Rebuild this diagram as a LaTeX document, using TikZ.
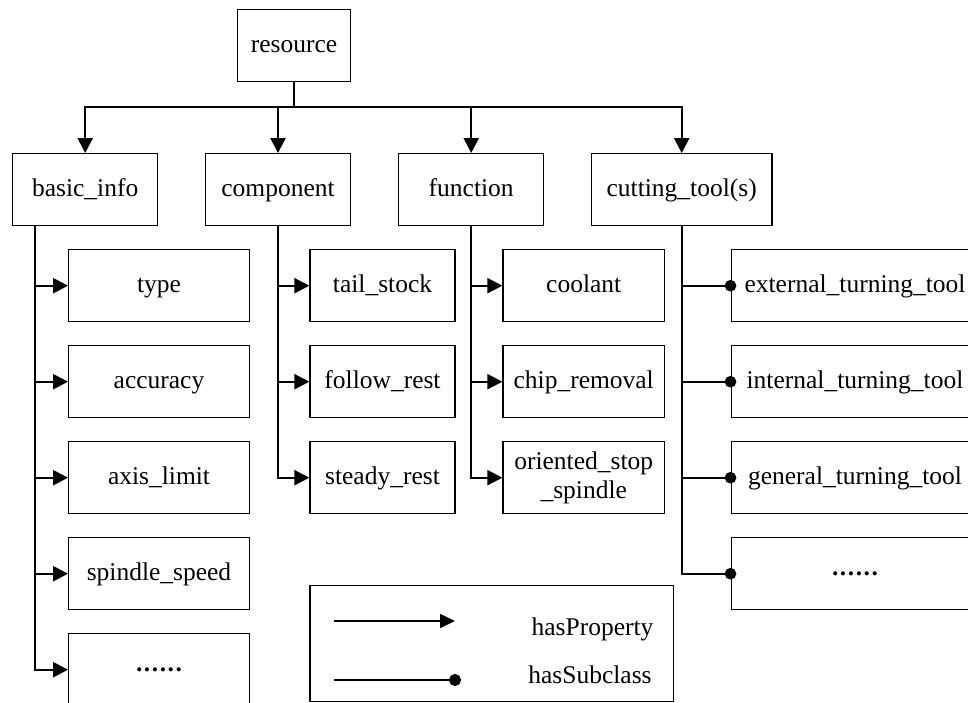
\documentclass[tikz,border=0pt]{standalone}
\usepackage{fontspec}
\setmainfont{Liberation Serif}
\usetikzlibrary{arrows.meta}
\begin{document}
\begin{tikzpicture}[x=1pt,y=-1pt,
  every node/.style={font=\fontsize{25.5}{29}\selectfont},
  box/.style={draw,line width=1.3pt,inner sep=0pt,minimum height=72pt,
    text height=18pt,text depth=5pt,align=center},
  dots/.style={text height=3pt,text depth=0pt,
    font=\fontsize{25.5}{29}\selectfont\bfseries\addfontfeatures{LetterSpace=6}},
  link/.style={line width=2.2pt},
  prop/.style={link,-{Triangle[length=15pt,width=15pt]}},
  sub/.style={link,-{Circle[length=11.5pt]},shorten >=-5.75pt},
  legprop/.style={line width=1.7pt,-{Triangle[length=15pt,width=14pt]}},
  legsub/.style={line width=1.7pt,-{Circle[length=12pt]},shorten >=-6pt}
]
\useasboundingbox (0,0) rectangle (968,703);
\clip (0,0) rectangle (968,703);

% root and first level
\node[box,minimum width=112.6pt] (res) at (294,45.7) {resource};
\node[box,minimum width=145pt]   (basic) at (85.2,189.7) {basic\_info};
\node[box,minimum width=144.6pt] (comp)  at (278,189.7) {component};
\node[box,minimum width=145pt]   (func)  at (471.2,189.7) {function};
\node[box,minimum width=180.7pt] (cut)   at (681.7,189.7) {cutting\_tool(s)};

% basic_info properties
\node[box,minimum width=180.6pt] (type) at (159,285.7) {type};
\node[box,minimum width=180.6pt] (acc)  at (159,381.7) {accuracy};
\node[box,minimum width=180.6pt] (axis) at (159,477.7) {axis\_limit};
\node[box,minimum width=180.6pt] (spd)  at (159,573.7) {spindle\_speed};
\node[box,dots,minimum width=180.6pt] (bmore) at (159,669.7) {......};

% component properties
\node[box,minimum width=145pt] (tail)   at (382.5,285.7) {tail\_stock};
\node[box,minimum width=145pt] (follow) at (382.5,381.7) {follow\_rest};
\node[box,minimum width=145pt] (steady) at (382.5,477.7) {steady\_rest};

% function properties
\node[box,minimum width=161.3pt] (cool) at (583.7,285.7) {coolant};
\node[box,minimum width=161.3pt] (chip) at (583.7,381.7) {chip\_removal};
\node[box,minimum width=161.3pt,text height=,text depth=] (orient) at (583.7,477.7) {oriented\_stop\\\_spindle};

% cutting tool subclasses
\node[box,minimum width=247.7pt] (ext) at (855,285.7) {external\_turning\_tool};
\node[box,minimum width=247.7pt] (int) at (855,381.7) {internal\_turning\_tool};
\node[box,minimum width=247.7pt] (gen) at (855,477.7) {general\_turning\_tool};
\node[box,dots,minimum width=247.7pt] (cmore) at (855,573.7) {......};

% root to first level
\foreach \c in {basic,comp,func,cut}
  \draw[prop] (res.south) -- ++(0,24.3) -| (\c.north);

% first level to its members
\coordinate (basicout) at ([xshift=23.3pt]basic.south west);
\foreach \c in {type,acc,axis,spd,bmore}
  \draw[prop] (basicout) |- (\c.west);
\foreach \c in {tail,follow,steady}
  \draw[prop] (comp.south) |- (\c.west);
\foreach \c in {cool,chip,orient}
  \draw[prop] (func.south) |- (\c.west);
\foreach \c in {ext,int,gen,cmore}
  \draw[sub] (cut.south) |- (\c.west);

% legend
\node[draw,line width=1.3pt,inner sep=0pt,minimum width=363.3pt,minimum height=116pt] (legend) at (491.7,643.7) {};
\node[text height=18pt,text depth=5pt,inner sep=0pt] (hp) at (592.5,629.2) {hasProperty};
\node[text height=18pt,text depth=5pt,inner sep=0pt] (hs) at (590,676.8) {hasSubclass};
\coordinate (pa) at (334,621);
\coordinate (pb) at (455,621);
\coordinate (sa) at (334,680);
\coordinate (sb) at (455,680);
\draw[legprop] (pa) -- (pb);
\draw[legsub] (sa) -- (sb);
\end{tikzpicture}
\end{document}
